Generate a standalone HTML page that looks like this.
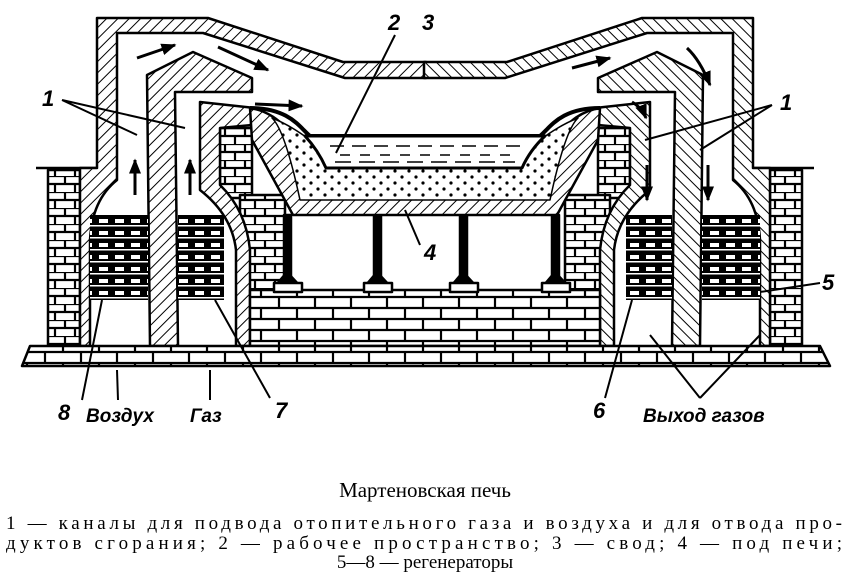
<!DOCTYPE html>
<html><head><meta charset="utf-8"><style>
html,body{margin:0;padding:0;background:#fff;}
svg{display:block;}
.n{font-family:"Liberation Sans",sans-serif;font-style:italic;font-weight:bold;font-size:22px;}
.c{font-family:"Liberation Serif",serif;}
</style></head><body>
<svg width="850" height="572" viewBox="0 0 850 572" xmlns="http://www.w3.org/2000/svg">
<defs>
<pattern id="h" width="8" height="8" patternUnits="userSpaceOnUse" patternTransform="rotate(45)">
<rect width="8" height="8" fill="#fff"/><line x1="0" y1="0" x2="0" y2="8" stroke="#000" stroke-width="2"/></pattern>
<pattern id="b" width="36" height="22" patternUnits="userSpaceOnUse">
<rect width="36" height="22" fill="#fff"/>
<path d="M0,0H36M0,11H36M0,22H36M9,0V11M27,11V22" stroke="#000" stroke-width="2.2" fill="none"/></pattern>
<pattern id="bs" width="20" height="16" patternUnits="userSpaceOnUse">
<rect width="20" height="16" fill="#fff"/>
<path d="M0,0H20M0,8H20M5,0V8M15,8V16" stroke="#000" stroke-width="2.2" fill="none"/></pattern>
<pattern id="k" width="16" height="12" patternUnits="userSpaceOnUse">
<rect width="16" height="12" fill="#000"/><rect x="3" y="3" width="9" height="4" fill="#fff"/><rect x="0" y="9" width="16" height="1.5" fill="#fff"/></pattern>
<pattern id="d" width="14" height="12" patternUnits="userSpaceOnUse">
<rect width="14" height="12" fill="#fff"/><circle cx="3" cy="3" r="1.6"/><circle cx="10" cy="9" r="1.6"/></pattern>
<marker id="a" viewBox="0 0 10 10" refX="9" refY="5" markerWidth="5" markerHeight="5" orient="auto"><path d="M0,1L10,5L0,9z"/></marker>
</defs>

<g id="L" stroke="#000" stroke-width="2.5" stroke-linejoin="round">
<rect x="48" y="170" width="32" height="176" fill="url(#bs)"/>
<line x1="36" y1="168" x2="98" y2="168"/>
<path d="M97,18 L208,18 L343,62 L426,62 L426,78 L345,78 L203,33 L117,33 L117,180 Q92,200 90,240 L90,346 L80,346 L80,168 L97,168 Z" fill="url(#h)"/>
<path d="M147,75 L193,52 L252,78 L252,92 L175,92 L178,346 L150,346 Z" fill="url(#h)"/>
<rect x="90" y="215" width="58" height="85" fill="url(#k)" stroke="none"/>
<rect x="178" y="215" width="46" height="85" fill="url(#k)" stroke="none"/>
<rect x="220" y="128" width="32" height="70" fill="url(#bs)"/>
<rect x="240" y="195" width="45" height="100" fill="url(#bs)"/>
<path d="M200,102 L255,108 L252,125 L220,128 L220,185 Q246,210 250,250 L250,346 L236,346 L236,250 Q232,215 200,190 Z" fill="url(#h)"/>
</g>
<use href="#L" transform="translate(850,0) scale(-1,1)"/>

<g stroke="#000" stroke-width="2.5" stroke-linejoin="round">
<rect x="250" y="290" width="350" height="56" fill="url(#b)"/>
<path d="M30,346 L820,346 L830,366 L22,366 Z" fill="url(#b)"/>
<g fill="#000">
<rect x="284" y="215" width="7" height="62"/><path d="M276,285 L287,272 L299,285 Z"/><rect x="274" y="283" width="28" height="9" fill="#fff"/>
<rect x="374" y="215" width="7" height="62"/><path d="M366,285 L377,272 L389,285 Z"/><rect x="364" y="283" width="28" height="9" fill="#fff"/>
<rect x="460" y="215" width="7" height="62"/><path d="M452,285 L463,272 L475,285 Z"/><rect x="450" y="283" width="28" height="9" fill="#fff"/>
<rect x="552" y="215" width="7" height="62"/><path d="M544,285 L555,272 L567,285 Z"/><rect x="542" y="283" width="28" height="9" fill="#fff"/>
</g>
<path d="M250,108 C275,112 285,128 300,140 L305,150 L545,150 L552,140 C565,128 575,112 600,108 L598,140 L557,215 L293,215 L252,140 Z" fill="url(#h)"/>
<path d="M272,118 Q285,130 300,200 L550,200 Q565,130 578,118 Q560,125 540,140 L310,140 Q290,125 272,118 Z" fill="url(#d)" stroke-width="1.5"/>
<path d="M250,108 C290,108 300,128 310,136 L540,136 C550,128 560,108 600,108" fill="none" stroke-width="4"/>
<path d="M305,136 L545,136 Q530,150 522,168 L326,168 Q318,150 305,136 Z" fill="#fff" stroke-width="3"/>
<g stroke-width="1.5"><line x1="330" y1="146" x2="520" y2="146" stroke-dasharray="14,8"/><line x1="340" y1="155" x2="510" y2="155" stroke-dasharray="10,10"/><line x1="335" y1="162" x2="515" y2="162" stroke-dasharray="16,8"/></g>
</g>

<g stroke="#000" stroke-width="3" fill="none" marker-end="url(#a)">
<line x1="135" y1="195" x2="135" y2="160"/><line x1="190" y1="195" x2="190" y2="160"/>
<line x1="137" y1="58" x2="175" y2="45"/><line x1="218" y1="47" x2="268" y2="70"/>
<line x1="255" y1="104" x2="302" y2="106"/>
<line x1="572" y1="68" x2="610" y2="58"/><path d="M687,48 Q700,60 710,85"/>
<path d="M632,102 Q642,108 646,118"/>
<line x1="647" y1="165" x2="647" y2="200"/><line x1="708" y1="165" x2="708" y2="200"/>
</g>

<g stroke="#000" stroke-width="2" fill="none">
<path d="M62,100 L137,135 M62,100 L185,128"/>
<path d="M395,35 L336,153"/>
<path d="M405,210 L420,245"/>
<path d="M772,105 L645,140 M772,105 L700,150"/>
<path d="M820,283 L760,292"/>
<path d="M82,400 L102,300 M118,400 L117,370 M210,400 L210,370 M270,398 L215,300"/>
<path d="M605,398 L632,300 M700,398 L650,335 M700,398 L760,335"/>
</g>

<g class="n">
<text x="42" y="106">1</text><text x="388" y="30">2</text><text x="422" y="30">3</text>
<text x="424" y="260">4</text><text x="780" y="110">1</text><text x="822" y="290">5</text>
<text x="58" y="420">8</text><text x="86" y="422" style="font-size:19px">Воздух</text>
<text x="190" y="422" style="font-size:19px">Газ</text><text x="275" y="418">7</text>
<text x="593" y="418">6</text><text x="643" y="422" style="font-size:19px">Выход газов</text>
</g>
<text class="c" x="425" y="497" text-anchor="middle" style="font-size:21px">Мартеновская печь</text>
<text class="c" x="6" y="529" textLength="836" lengthAdjust="spacing" style="font-size:19px">1 — каналы для подвода отопительного газа и воздуха и для отвода про-</text>
<text class="c" x="6" y="549" textLength="836" lengthAdjust="spacing" style="font-size:19px">дуктов сгорания; 2 — рабочее пространство; 3 — свод; 4 — под печи;</text>
<text class="c" x="425" y="568" text-anchor="middle" style="font-size:19px">5—8 — регенераторы</text>
</svg>
</body></html>
